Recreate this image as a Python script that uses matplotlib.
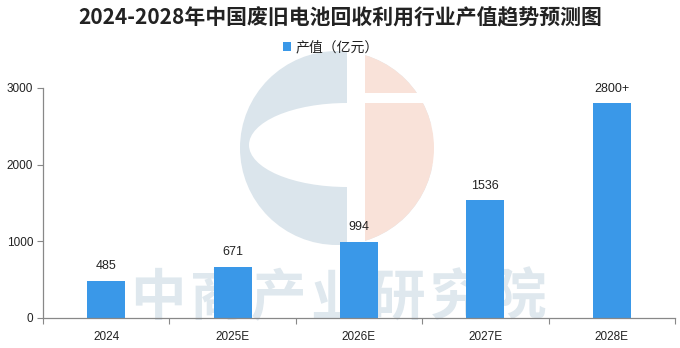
import matplotlib
matplotlib.use("Agg")
import matplotlib.pyplot as plt
from matplotlib.patches import Ellipse, Rectangle, Circle
import numpy as np

plt.rcParams['font.family'] = ['Noto Sans CJK SC', 'DejaVu Sans']

categories = ["2024", "2025E", "2026E", "2027E", "2028E"]
values = [485, 671, 994, 1536, 2800]
value_labels = ["485", "671", "994", "1536", "2800+"]
title = "2024-2028年中国废旧电池回收利用行业产值趋势预测图"
legend_label = "产值（亿元）"
yticks = [0, 1000, 2000, 3000]
watermark = "中商产业研究院"

W, H = 680, 348
fig = plt.figure(figsize=(W / 100, H / 100), dpi=100)
fig.patch.set_facecolor("white")

# background watermark layer (pixel coordinates)
bg = fig.add_axes([0, 0, 1, 1], zorder=0)
bg.set_xlim(0, W)
bg.set_ylim(H, 0)
bg.axis("off")
blue_wm = "#dbe5ec"
peach_wm = "#f9e2d9"
cx, cy, r = 337, 148, 97
bg.add_patch(Circle((cx, cy), r, facecolor=blue_wm, edgecolor="none"))
bg.add_patch(Ellipse((347, 145), 196, 84, facecolor="white", edgecolor="none"))
right = Circle((cx, cy), r, facecolor=peach_wm, edgecolor="none")
bg.add_patch(right)
clip = Rectangle((356, 0), 300, H, transform=bg.transData, facecolor="none")
right.set_clip_path(clip)
bg.add_patch(Rectangle((347, 40), 18, 220, facecolor="white", edgecolor="none"))
bg.add_patch(Rectangle((347, 93), 120, 10, facecolor="white", edgecolor="none"))
for i, ch in enumerate(watermark):
    bg.text(158 + i * 60, 299, ch, fontsize=40, color="#dfe8ee",
            ha="center", va="center", fontweight="bold")

ax = fig.add_axes([43 / W, 1 - 318 / H, (675 - 43) / W, (318 - 88) / H], zorder=1)
ax.patch.set_alpha(0)
x = np.arange(len(categories))
bar_color = "#3a98e8"
bars = ax.bar(x, values, width=0.3, color=bar_color, label=legend_label, zorder=2)
ax.set_xlim(-0.5, len(categories) - 0.5)
ax.set_ylim(0, 3000)

num_font = ["Liberation Sans", "DejaVu Sans"]
for xi, v, lab in zip(x, values, value_labels):
    ax.annotate(lab, (xi, v), xytext=(0, 6), textcoords="offset points",
                ha="center", va="bottom", fontsize=9, color="#222222",
                family=num_font)

ax.set_yticks(yticks)
ax.set_yticklabels([str(t) for t in yticks], fontsize=8.5, color="#222222",
                   family=num_font)
ax.tick_params(axis="y", length=4, width=0.8, color="#888888", pad=3)

ax.set_xticks(x)
ax.set_xticklabels(categories, fontsize=8.5, color="#222222", family=num_font)
ax.tick_params(axis="x", which="major", length=0, pad=9)
ax.set_xticks(np.arange(-0.5, len(categories)), minor=True)
ax.tick_params(axis="x", which="minor", length=4, width=0.8, color="#888888",
               direction="out")

for s in ["top", "right"]:
    ax.spines[s].set_visible(False)
for s in ["left", "bottom"]:
    ax.spines[s].set_color("#888888")
    ax.spines[s].set_linewidth(0.9)

fig.text(0.5, 1 - 18 / H, title, ha="center", va="center", fontsize=15,
         fontweight="bold", color="#222222")

leg = fig.legend(handles=[bars], labels=[legend_label], loc="center",
                 bbox_to_anchor=(331 / W, 1 - 47 / H), frameon=False,
                 fontsize=10, handlelength=0.6, handleheight=0.6,
                 handletextpad=0.3)
for t in leg.get_texts():
    t.set_color("#222222")

fig.savefig("out.png", dpi=100, facecolor="white")
